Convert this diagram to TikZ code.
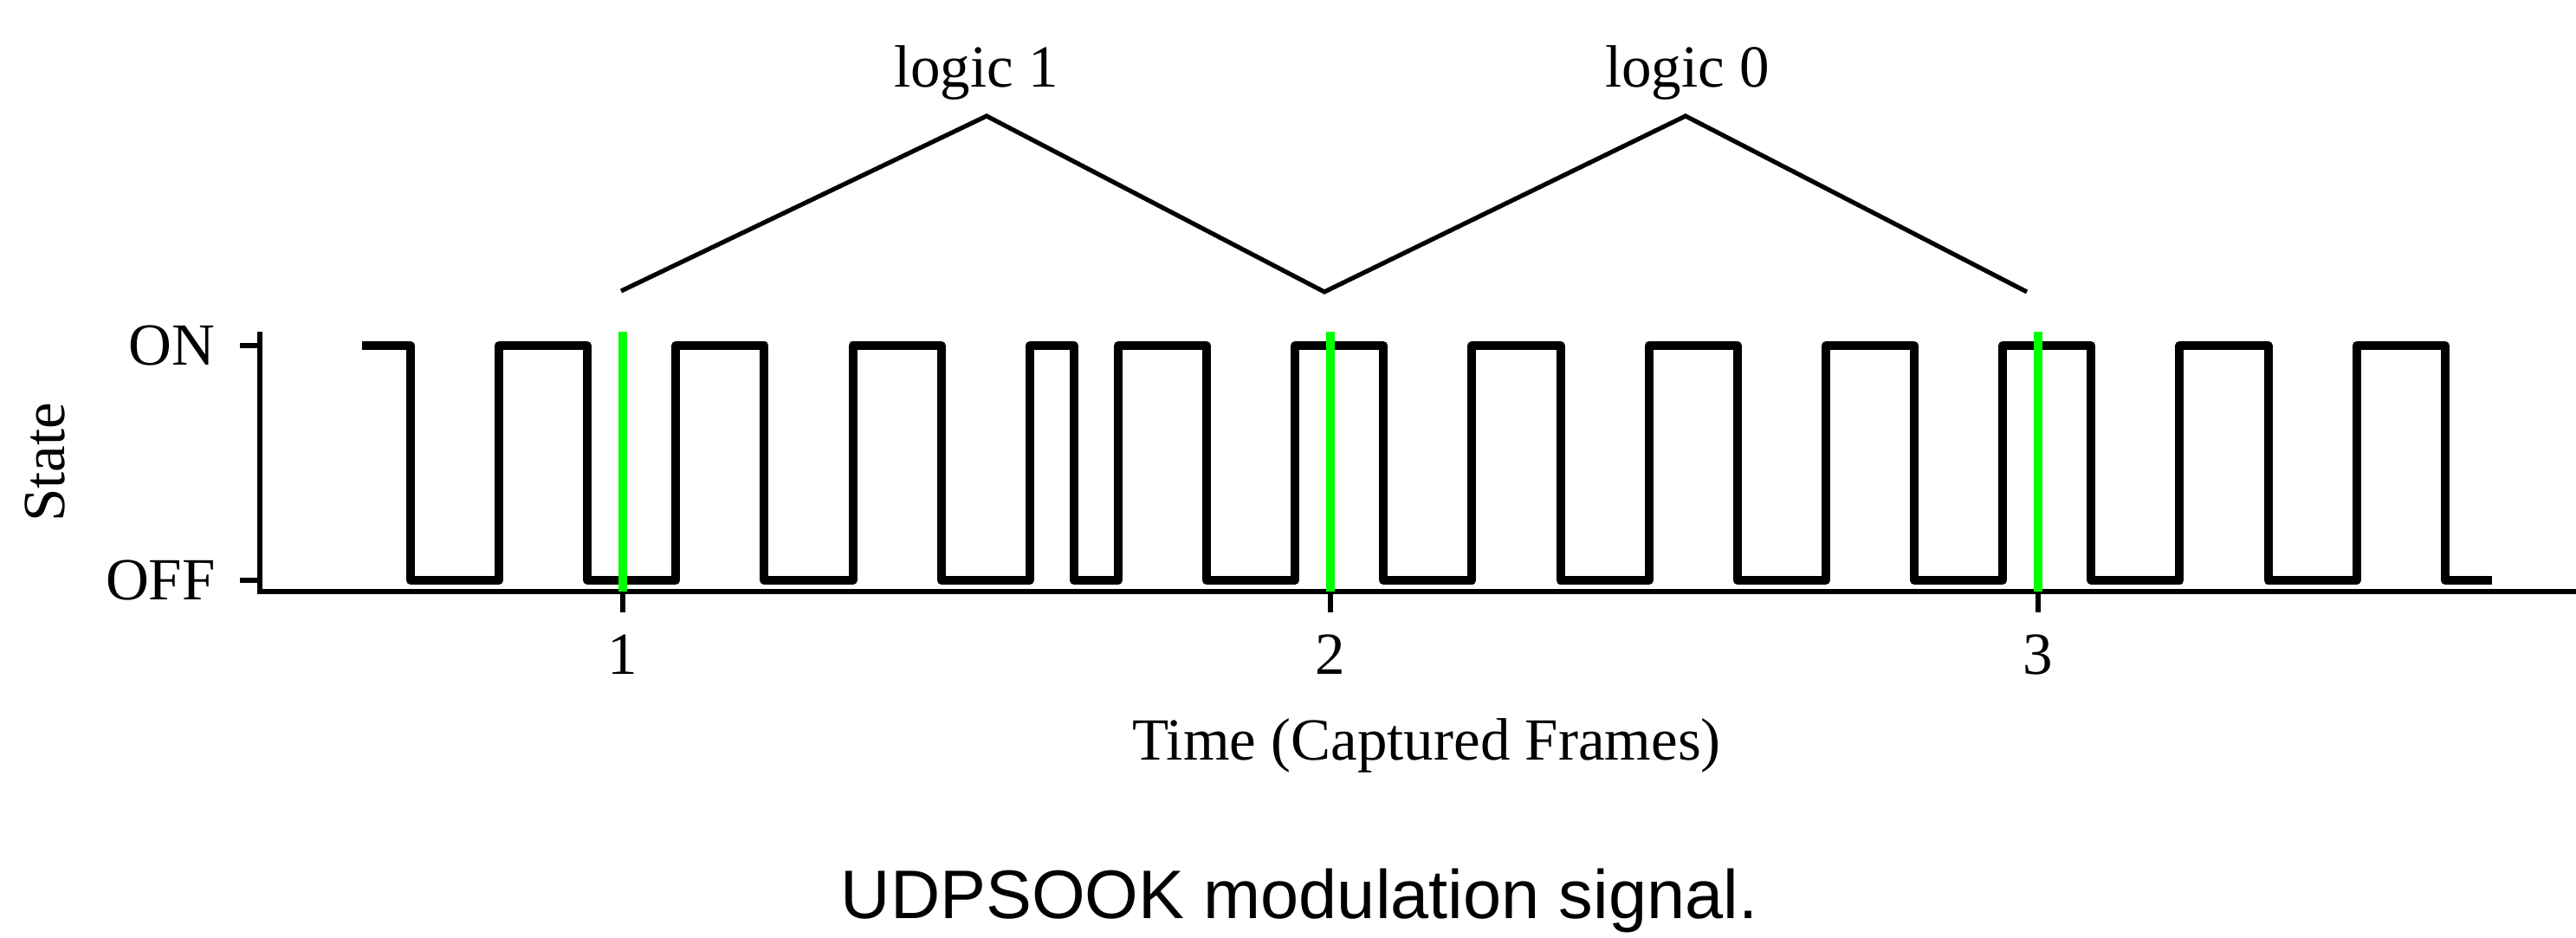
\documentclass[tikz,border=0pt]{standalone}
\usepackage{fontspec}
\setmainfont{Liberation Serif}
\newfontfamily\captionsans{Liberation Sans}
\usetikzlibrary{arrows,calc}
\tikzset{
	axisline/.style={black, line width=1pt},
	signal/.style={black, line width=1.45pt, line join=round},
	framemark/.style={green, line width=1.45pt},
	bitshape/.style={black, line width=0.75pt, line join=miter},
	ticklabel/.style={inner sep=0pt, font=\normalsize}
}

\begin{document}
\begin{tikzpicture}[x=118.41pt, y=39.28pt]
		\useasboundingbox (0.11995,-1.5203) rectangle (3.7601,2.4723);
		\coordinate (origin) at (0.4872,-0.048);
		\coordinate (xend) at (3.7601,-0.048);
		\coordinate (ytop) at (0.4872,1.059);
		\draw [axisline] (ytop) -- (origin) -- (xend);
		\draw [axisline]	(0.4872,1) -- (0.459,1)
							(0.4872,0) -- (0.459,0);
		\node [ticklabel, anchor=east] (on) at (0.4259,1) {ON};
		\node [ticklabel, anchor=east] (off) at (0.4259,0) {OFF};
		\node [ticklabel, rotate=90] (state) at (0.1836,0.502) {State};
		\foreach \t in {1,2,3} {
			\draw [axisline] (\t,-0.048) -- (\t,-0.1365);
			\node [ticklabel, anchor=base] (tick\t) at (\t,-0.402) {\t};
		}
		\node [ticklabel, anchor=base] (xlabel) at (2.1359,-0.764) {Time (Captured Frames)};
		\draw [signal] (0.632,1) -| (0.7,0) -| (0.825,1) -| (0.95,0) -| (1.075,1) -| (1.2,0)
						-| (1.325,1) -| (1.45,0) -| (1.575,1) -| (1.6375,0) -| (1.7,1) -| (1.825,0)
						-| (1.95,1) -| (2.075,0) -| (2.2,1) -| (2.325,0) -| (2.45,1) -| (2.575,0)
						-| (2.7,1) -| (2.825,0) -| (2.95,1) -| (3.075,0) -| (3.2,1) -| (3.325,0)
						-| (3.45,1) -| (3.575,0) -- (3.641,0);
		\foreach \t in {1,2,3}
			\draw [framemark] (\t,1.059) -- (\t,-0.048);
		\coordinate (b0) at (0.9976,1.2325);
		\coordinate (b1) at (1.5141,1.9779);
		\coordinate (b2) at (1.9914,1.2288);
		\coordinate (b3) at (2.5018,1.9779);
		\coordinate (b4) at (2.9841,1.2288);
		\draw [bitshape] (b0) -- (b1) -- (b2) -- (b3) -- (b4);
		\node [ticklabel, anchor=base] (one) at (1.4994,2.0996) {logic 1};
		\node [ticklabel, anchor=base] (zero) at (2.5043,2.0996) {logic 0};
		\node [inner sep=0pt, anchor=base, font=\captionsans\fontsize{11.5}{14}\selectfont] (caption) at (1.956,-1.439) {UDPSOOK modulation signal.};
	\end{tikzpicture}
\end{document}
